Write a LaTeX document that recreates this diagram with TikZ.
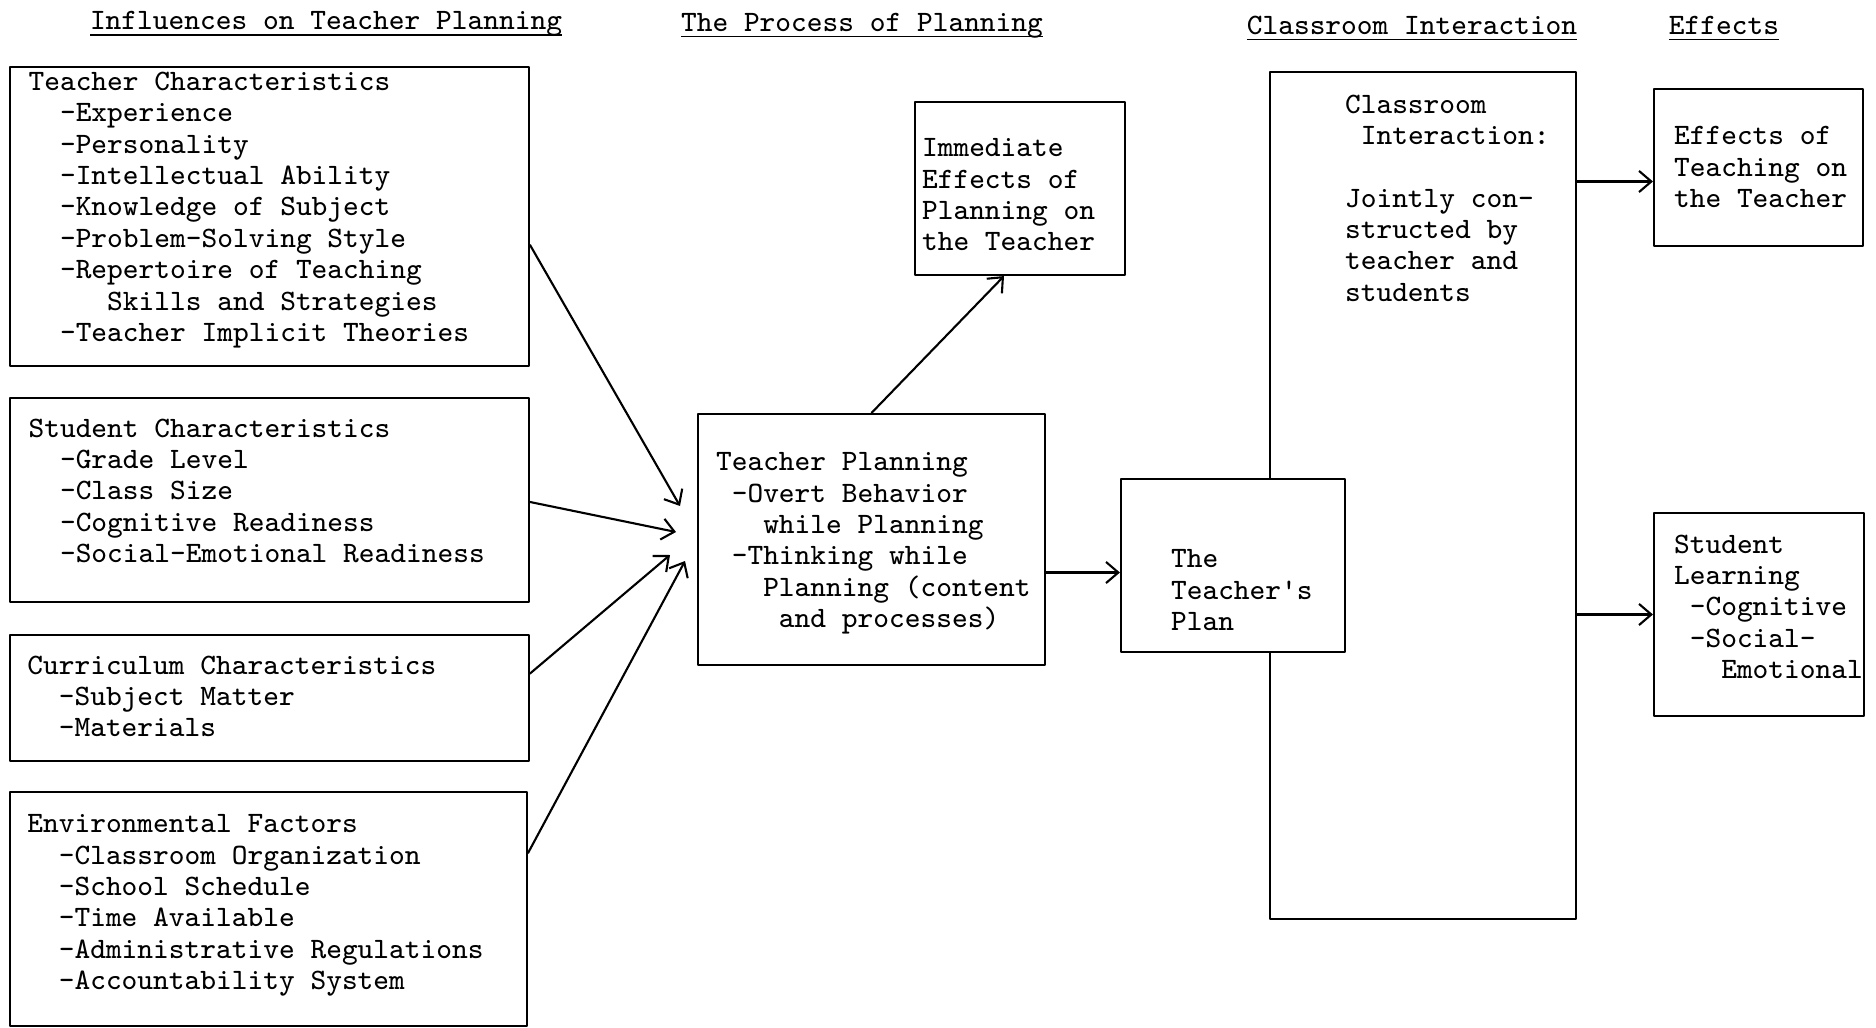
\documentclass[tikz,border=0pt]{standalone}
\usepackage{fontspec}
\usetikzlibrary{arrows.meta,fit}
% indent by a number of typewriter characters
\newcommand{\ind}[1]{\hspace*{#1\fontcharwd\font`\x}}
\newcommand{\hd}[1]{\underline{\smash{#1}}}
\tikzset{
  box/.style={draw, inner sep=0pt, fit={#1}},
  txt/.style={anchor=north west, align=left, inner sep=0pt},
  hdr/.style={anchor=base, inner sep=0pt}
}
\begin{document}
\begin{tikzpicture}[>={Straight Barb[length=3.5pt,width=6pt]}, line width=0.6pt, font=\fontsize{8.43}{8.93}\selectfont\ttfamily, line join=round, line cap=round]
	\useasboundingbox (0,0) rectangle (18.76,-10.28);
	% column headings
	\node (hinf) [hdr] at (3.26,-0.30) {\hd{Influences on Teacher Planning}};
	\node (hproc) [hdr] at (8.62,-0.315) {\hd{The Process of Planning}};
	\node (hint) [hdr] at (14.12,-0.345) {\hd{Classroom Interaction}};
	\node (heff) [hdr] at (17.24,-0.345) {\hd{Effects}};
	% influences
	\node (tc) [box={(0.10,-0.67) (5.29,-3.66)}] {};
	\node (tctxt) [txt] at (0.275,-0.71) {Teacher Characteristics\\
		\ind{2}-Experience\\ \ind{2}-Personality\\ \ind{2}-Intellectual Ability\\
		\ind{2}-Knowledge of Subject\\ \ind{2}-Problem-Solving Style\\
		\ind{2}-Repertoire of Teaching\\ \ind{5}Skills and Strategies\\
		\ind{2}-Teacher Implicit Theories};
	\node (sc) [box={(0.10,-3.98) (5.29,-6.02)}] {};
	\node (sctxt) [txt] at (0.275,-4.176) {Student Characteristics\\
		\ind{2}-Grade Level\\ \ind{2}-Class Size\\ \ind{2}-Cognitive Readiness\\
		\ind{2}-Social-Emotional Readiness};
	\node (cc) [box={(0.10,-6.35) (5.29,-7.61)}] {};
	\node (cctxt) [txt] at (0.263,-6.546) {Curriculum Characteristics\\
		\ind{2}-Subject Matter\\ \ind{2}-Materials};
	\node (ef) [box={(0.10,-7.92) (5.27,-10.26)}] {};
	\node (eftxt) [txt] at (0.263,-8.136) {Environmental Factors\\
		\ind{2}-Classroom Organization\\ \ind{2}-School Schedule\\
		\ind{2}-Time Available\\ \ind{2}-Administrative Regulations\\
		\ind{2}-Accountability System};
	% planning
	\node (tp) [box={(6.98,-4.14) (10.45,-6.65)}] {};
	\node (tptxt) [txt] at (7.15,-4.516) {Teacher Planning\\
		\ind{1}-Overt Behavior\\ \ind{3}while Planning\\ \ind{1}-Thinking while\\
		\ind{3}Planning (content\\ \ind{4}and processes)};
	\node (ie) [box={(9.15,-1.02) (11.25,-2.75)}] {};
	\node (ietxt) [txt] at (9.21,-1.376) {Immediate\\Effects of\\Planning on\\the Teacher};
	% classroom interaction
	\node (big) [box={(12.70,-0.72) (15.76,-9.19)}] {};
	\node (bigtxt) [txt] at (13.44,-0.936) {Classroom\\ \ind{1}Interaction:\\ \\
		Jointly con-\\structed by\\teacher and\\students};
	\node (plan) [box={(11.21,-4.79) (13.45,-6.52)}, fill=white] {};
	\node (plantxt) [txt] at (11.70,-5.486) {The\\Teacher's\\Plan};
	% effects
	\node (et) [box={(16.54,-0.89) (18.63,-2.46)}] {};
	\node (ettxt) [txt] at (16.73,-1.256) {Effects of\\Teaching on\\the Teacher};
	\node (sl) [box={(16.54,-5.13) (18.64,-7.16)}] {};
	\node (sltxt) [txt] at (16.73,-5.336) {Student\\Learning\\ \ind{1}-Cognitive\\
		\ind{1}-Social-\\ \ind{3}Emotional};
	% arrows
	\coordinate (in1) at (6.80,-5.06);
	\coordinate (in2) at (6.76,-5.32);
	\coordinate (in3) at (6.70,-5.55);
	\coordinate (in4) at (6.85,-5.61);
	\foreach \n/\s/\c in {tc/-0.285/in1, sc/-0.02/in2, cc/0.245/in3, ef/0.56/in4}
	\draw[->] ([yshift=\s cm]\n.east) -- (\c);
	\draw[->] (tp.north) -- ([xshift=-0.16cm]ie.south);
	\draw[->] ([yshift=-0.33cm]tp.east) -- ([yshift=-0.33cm]tp.east -| plan.west);
	\draw[->] ([yshift=-0.14cm]et.west -| big.east) -- ([yshift=-0.14cm]et.west);
	\draw[->] (big.east |- sl.west) -- (sl.west);
\end{tikzpicture}
\end{document}
